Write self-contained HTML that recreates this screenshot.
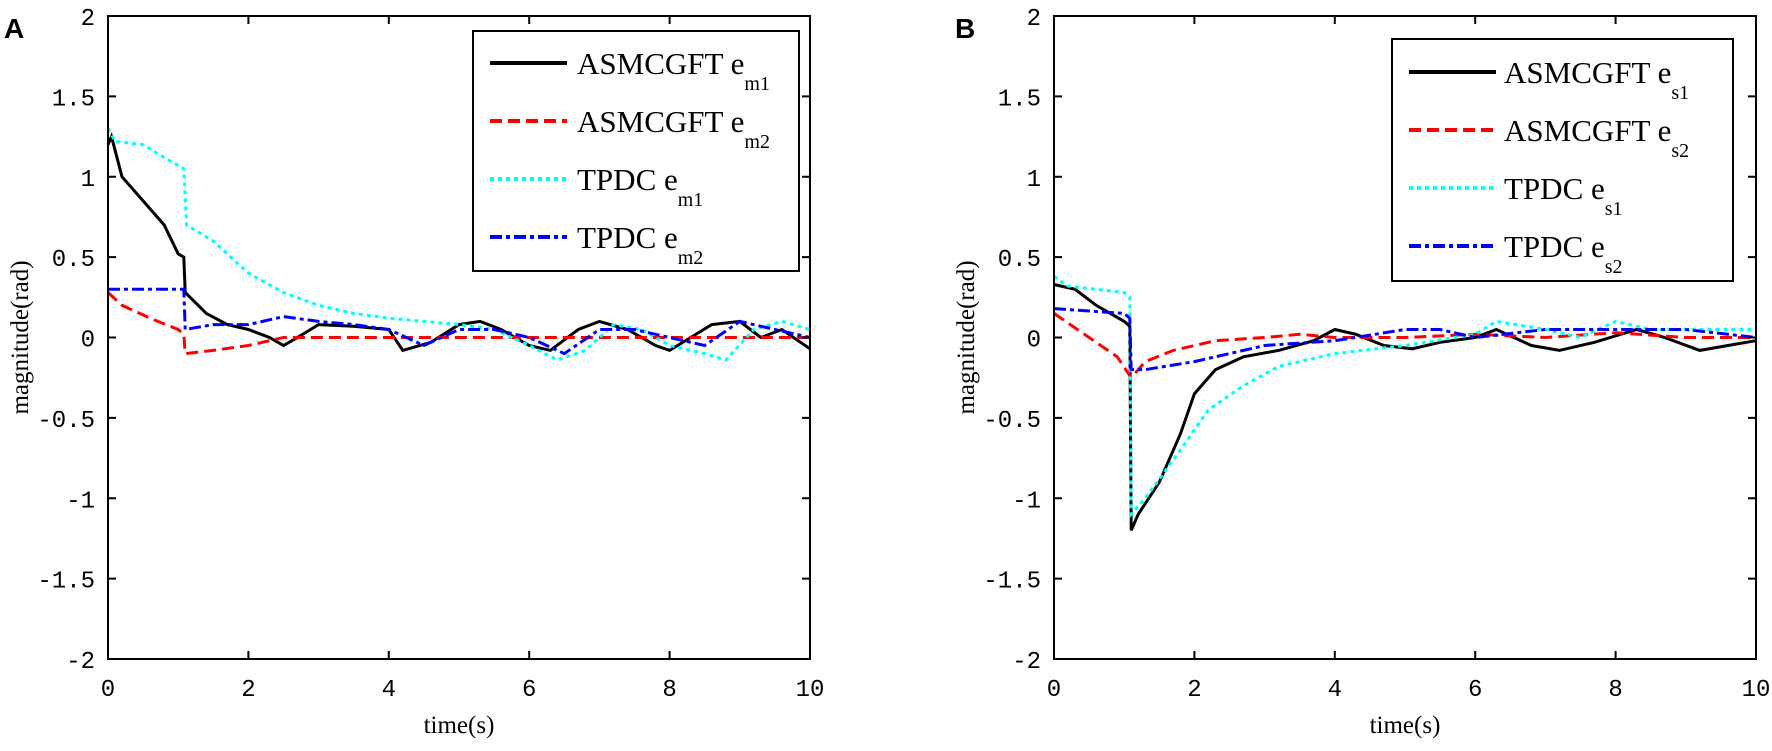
<!DOCTYPE html>
<html><head><meta charset="utf-8"><style>
body{margin:0;background:#fff;}
svg{display:block;font-family:"Liberation Serif",serif;}
</style></head><body>
<svg id="c" width="1772" height="751" viewBox="0 0 1772 751" xmlns="http://www.w3.org/2000/svg"></svg>
<script>
const xTicks=[0,2,4,6,8,10];
const yTicks=[-2,-1.5,-1,-0.5,0,0.5,1,1.5,2];
const yTickLabels=["-2","-1.5","-1","-0.5","0","0.5","1","1.5","2"];
const legendA=["ASMCGFT e|m1","ASMCGFT e|m2","TPDC e|m1","TPDC  e|m2"];
const legendB=["ASMCGFT e|s1","ASMCGFT e|s2","TPDC e|s1","TPDC e|s2"];
// Panel A series [t, value]
const aBlackT=[0,0.05,0.2,0.5,0.8,1.0,1.08,1.1,1.4,1.7,2.0,2.3,2.5,2.7,3.0,3.5,4.0,4.2,4.6,5.0,5.3,5.6,6.0,6.3,6.7,7.0,7.4,7.8,8.0,8.3,8.6,9.0,9.3,9.6,10];
const aBlackV=[1.2,1.25,1.0,0.85,0.7,0.52,0.5,0.28,0.15,0.08,0.05,0.0,-0.05,0.0,0.08,0.07,0.05,-0.08,-0.03,0.08,0.1,0.05,-0.05,-0.08,0.05,0.1,0.05,-0.05,-0.08,0.0,0.08,0.1,0.0,0.05,-0.07];
const aRedT=[0,0.2,0.6,1.0,1.08,1.1,1.5,2.0,2.5,4,6,8,10];
const aRedV=[0.28,0.2,0.12,0.05,0.02,-0.1,-0.08,-0.05,0.0,0.0,0.0,0.0,0.0];
const aCyanT=[0,0.1,0.5,0.8,1.08,1.12,1.5,2,2.5,3,3.5,4,4.5,5,5.5,6,6.4,6.8,7.2,7.6,8.0,8.5,8.8,9.2,9.6,10];
const aCyanV=[1.3,1.22,1.2,1.12,1.05,0.7,0.6,0.4,0.28,0.2,0.15,0.12,0.1,0.08,0.05,-0.05,-0.14,-0.08,0.08,0.05,-0.05,-0.1,-0.14,0.05,0.1,0.05];
const aBlueT=[0,1.08,1.1,1.5,2,2.5,3,3.5,4,4.5,5,5.5,6,6.5,7,7.5,8,8.5,9,9.5,10];
const aBlueV=[0.3,0.3,0.05,0.08,0.08,0.13,0.1,0.08,0.05,-0.05,0.05,0.05,0.0,-0.1,0.05,0.05,0.0,-0.05,0.1,0.05,0.0];
// Panel B series
const bBlackT=[0,0.3,0.6,1.0,1.08,1.1,1.2,1.5,1.8,2.0,2.3,2.7,3.2,3.7,4.0,4.3,4.7,5.1,5.5,6.0,6.3,6.8,7.2,7.7,8.3,8.7,9.2,9.6,10];
const bBlackV=[0.33,0.3,0.2,0.1,0.07,-1.2,-1.1,-0.9,-0.6,-0.35,-0.2,-0.12,-0.08,-0.02,0.05,0.02,-0.05,-0.07,-0.03,0.0,0.05,-0.05,-0.08,-0.03,0.05,0.0,-0.08,-0.05,-0.02];
const bRedT=[0,0.5,0.9,1.1,1.3,1.7,2.3,3,3.5,4,5,6,7,8,9,10];
const bRedV=[0.15,0.0,-0.12,-0.25,-0.15,-0.08,-0.02,0.0,0.02,0.0,0.0,0.02,0.0,0.03,0.0,0.0];
const bCyanT=[0,0.2,1.0,1.08,1.1,1.3,1.8,2.2,2.7,3.2,4,5,6,6.3,7,7.5,8,8.5,9,10];
const bCyanV=[0.38,0.32,0.28,0.25,-1.1,-1.0,-0.7,-0.45,-0.3,-0.18,-0.1,-0.05,0.02,0.1,0.05,0.0,0.1,0.05,0.05,0.05];
const bBlueT=[0,1.0,1.08,1.1,1.3,2,2.5,3,4,5,5.5,6,7,8,9,10];
const bBlueV=[0.18,0.15,0.12,-0.2,-0.2,-0.15,-0.1,-0.05,-0.02,0.05,0.05,0.0,0.05,0.05,0.05,0.0];

const NS="http://www.w3.org/2000/svg";
const svg=document.getElementById('c');
function mk(tag,attrs,parent){const e=document.createElementNS(NS,tag);for(const k in attrs)e.setAttribute(k,attrs[k]);(parent||svg).appendChild(e);return e;}
const styles=[
 {stroke:"#000",dash:""},
 {stroke:"#ff0000",dash:"12 6"},
 {stroke:"#00ffff",dash:"4 4"},
 {stroke:"#0000ff",dash:"12 4 4 4"}];

function panel(letter,left,series,legend,leg){
 const right=left+702, top=16, bottom=659;
 const g=mk('g',{});
 
 
 const sx=t=>left+(t-0)/10*(right-left);
 const sy=v=>bottom-(v+2)/4*(bottom-top);
 const lbl=mk('text',{x:left-103+(letter==='B'?0:0),y:38,'font-family':'Liberation Sans, sans-serif','font-weight':'bold','font-size':'28'},g);
 lbl.setAttribute('x',letter==='A'?4:955);
 lbl.textContent=letter;
 
 
 // series
 series.forEach((s,i)=>{
  const pts=s.t.map((t,j)=>sx(t).toFixed(1)+','+sy(s.v[j]).toFixed(1)).join(' ');
  const p=mk('polyline',{points:pts,fill:'none',stroke:styles[i].stroke,'stroke-width':3,'stroke-dasharray':styles[i].dash,'stroke-linejoin':'miter'},g);
  
  
 });
 // axes box
 const box=mk('rect',{x:left,y:top,width:right-left,height:bottom-top,fill:'none',stroke:'#000','stroke-width':2},g);
 
 
 xTicks.forEach(t=>{
  mk('line',{x1:sx(t),x2:sx(t),y1:bottom,y2:bottom-8,stroke:'#000','stroke-width':2},g);
  mk('line',{x1:sx(t),x2:sx(t),y1:top,y2:top+8,stroke:'#000','stroke-width':2},g);
  const tx=mk('text',{x:sx(t),y:bottom+37,'text-anchor':'middle','font-family':'Liberation Mono, monospace','font-size':'24'},g);
  tx.textContent=String(t);
  
  
 });
 yTicks.forEach((v,i)=>{
  mk('line',{x1:left,x2:left+8,y1:sy(v),y2:sy(v),stroke:'#000','stroke-width':2},g);
  mk('line',{x1:right,x2:right-8,y1:sy(v),y2:sy(v),stroke:'#000','stroke-width':2},g);
  const ty=mk('text',{x:left-13,y:sy(v)+9,'text-anchor':'end','font-family':'Liberation Mono, monospace','font-size':'24'},g);
  ty.textContent=yTickLabels[i];
  
  
 });
 const xt=mk('text',{x:(left+right)/2,y:733,'text-anchor':'middle','font-size':'25'},g);
 xt.textContent='time(s)';
 
 
 const yt=mk('text',{x:0,y:0,'text-anchor':'middle','font-size':'25',transform:`translate(${left-80},${(top+bottom)/2}) rotate(-90)`},g);
 yt.textContent='magnitude(rad)';
 
 
 // legend
 const lg=mk('g',{},g);
 
 
 mk('rect',{x:leg.x,y:leg.y,width:leg.w,height:leg.h,fill:'#fff',stroke:'#000','stroke-width':2},lg);
 legend.forEach((txt,i)=>{
  const ly=leg.row0+i*58;
  const ln=mk('line',{x1:leg.lx1,x2:leg.lx2,y1:ly,y2:ly,stroke:styles[i].stroke,'stroke-width':4,'stroke-dasharray':styles[i].dash},lg);
  
  
  const parts=txt.split('|');
  const t=mk('text',{x:leg.tx,y:ly+11,'font-size':'31'},lg);
  
  
  const s1=mk('tspan',{},t);s1.textContent=parts[0];
  const s2=mk('tspan',{'font-size':'20',dy:'16'},t);s2.textContent=parts[1];
 });
}
panel('A',108,[
 {t:aBlackT,v:aBlackV},{t:aRedT,v:aRedV},{t:aCyanT,v:aCyanV},{t:aBlueT,v:aBlueV}],legendA,
 {x:473,y:31,w:326,h:240,row0:63,lx1:490,lx2:567,tx:577});
panel('B',1054,[
 {t:bBlackT,v:bBlackV},{t:bRedT,v:bRedV},{t:bCyanT,v:bCyanV},{t:bBlueT,v:bBlueV}],legendB,
 {x:1392,y:39,w:341,h:242,row0:72,lx1:1409,lx2:1496,tx:1504});
</script>
</body></html>
